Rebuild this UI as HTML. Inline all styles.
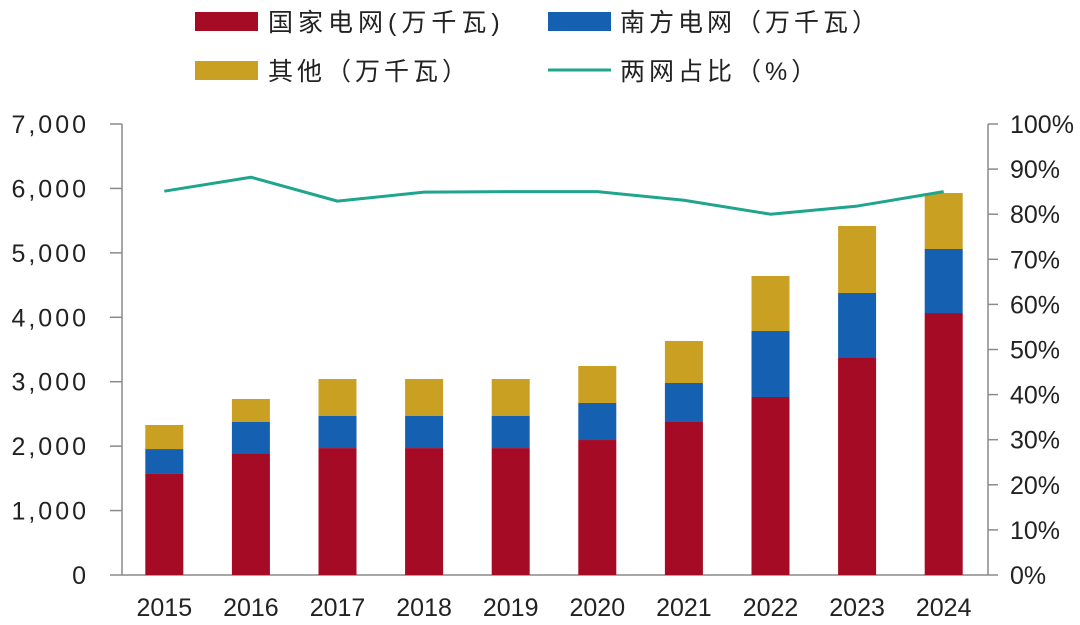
<!DOCTYPE html>
<html><head><meta charset="utf-8">
<style>
html,body{margin:0;padding:0;background:#fff;}
svg{display:block;font-family:"Liberation Sans","Noto Sans CJK SC",sans-serif;}
</style></head>
<body>
<svg id="chart" width="1080" height="625" viewBox="0 0 1080 625">
  <g id="legend">
    <rect x="195" y="12" width="63" height="19" fill="#A50B24"/>
    <text x="268" y="31" font-size="25" letter-spacing="5" fill="#222">国家电网(万千瓦)</text>
    <rect x="548" y="12" width="63" height="19" fill="#1560B0"/>
    <text x="620" y="31" font-size="25" letter-spacing="4" fill="#222">南方电网（万千瓦）</text>
    <rect x="195" y="61" width="63" height="19" fill="#C9A022"/>
    <text x="268" y="80" font-size="25" letter-spacing="4" fill="#222">其他（万千瓦）</text>
    <line x1="548" y1="70" x2="611" y2="70" stroke="#1FA58E" stroke-width="3"/>
    <text x="620" y="80" font-size="25" letter-spacing="4" fill="#222">两网占比（%）</text>
  </g>
  <g id="axes"></g>
  <g id="bars"></g>
  <g id="line"></g>
</svg>
<script>
const years = ['2015','2016','2017','2018','2019','2020','2021','2022','2023','2024'];
const stateGrid = [1580,1878,1970,1970,1970,2095,2375,2763,3368,4066];
const southernGrid = [375,497,498,498,498,575,605,1024,1009,994];
const other = [373,357,574,574,574,574,652,854,1040,869];
const share = [85.1,88.2,82.9,84.9,85,85,83.1,80,81.8,85];
const leftTicks = ['0','1,000','2,000','3,000','4,000','5,000','6,000','7,000'];
const rightTicks = ['0%','10%','20%','30%','40%','50%','60%','70%','80%','90%','100%'];

const NS='http://www.w3.org/2000/svg';
const X0=122, X1=988, Y0=575, YT=124;
const yL = v => Y0 - v/7000*(Y0-YT);
const yR = p => Y0 - p/100*(Y0-YT);
const band = (X1-X0)/years.length;
const xC = i => X0 + band*(i+0.5) - 1;
const BW = 38;
function mk(tag, attrs, parent){const e=document.createElementNS(NS,tag);for(const k in attrs)e.setAttribute(k,attrs[k]);parent.appendChild(e);return e;}
const axes=document.getElementById('axes'), bars=document.getElementById('bars'), line=document.getElementById('line');
const ax='#8a8a8a';
let e;
e=mk('line',{x1:X0,y1:YT,x2:X0,y2:Y0,stroke:ax,'stroke-width':1.5},axes);


e=mk('line',{x1:X1,y1:YT,x2:X1,y2:Y0,stroke:ax,'stroke-width':1.5},axes);


e=mk('line',{x1:X0,y1:Y0,x2:X1,y2:Y0,stroke:ax,'stroke-width':1.5},axes);


leftTicks.forEach((t,i)=>{
  const y=yL(i*1000);
  mk('line',{x1:X0-12,y1:y,x2:X0,y2:y,stroke:ax,'stroke-width':1.5},axes);
  e=mk('text',{x:89,y:y+9,'font-size':25,'letter-spacing':3,'text-anchor':'end',fill:'#222'},axes);
  e.textContent=t;
  
  
});
rightTicks.forEach((t,i)=>{
  const y=yR(i*10);
  mk('line',{x1:X1,y1:y,x2:X1+10,y2:y,stroke:ax,'stroke-width':1.5},axes);
  e=mk('text',{x:1010,y:y+9,'font-size':25,fill:'#222'},axes);
  e.textContent=t;
  
  
});
years.forEach((yr,i)=>{
  e=mk('text',{x:xC(i),y:616,'font-size':25,'text-anchor':'middle',fill:'#222'},axes);
  e.textContent=yr;
  
  
  const x=xC(i)-BW/2;
  const a=stateGrid[i], b=a+southernGrid[i], c=b+other[i];
  e=mk('rect',{x:x,y:yL(a),width:BW,height:Y0-yL(a),fill:'#A50B24'},bars);
  
  
  e=mk('rect',{x:x,y:yL(b),width:BW,height:yL(a)-yL(b),fill:'#1560B0'},bars);
  
  
  e=mk('rect',{x:x,y:yL(c),width:BW,height:yL(b)-yL(c),fill:'#C9A022'},bars);
  
  
});
e=mk('polyline',{points:share.map((p,i)=>xC(i)+','+yR(p)).join(' '),fill:'none',stroke:'#1FA58E','stroke-width':3,'stroke-linejoin':'round'},line);


</script>
</body></html>
